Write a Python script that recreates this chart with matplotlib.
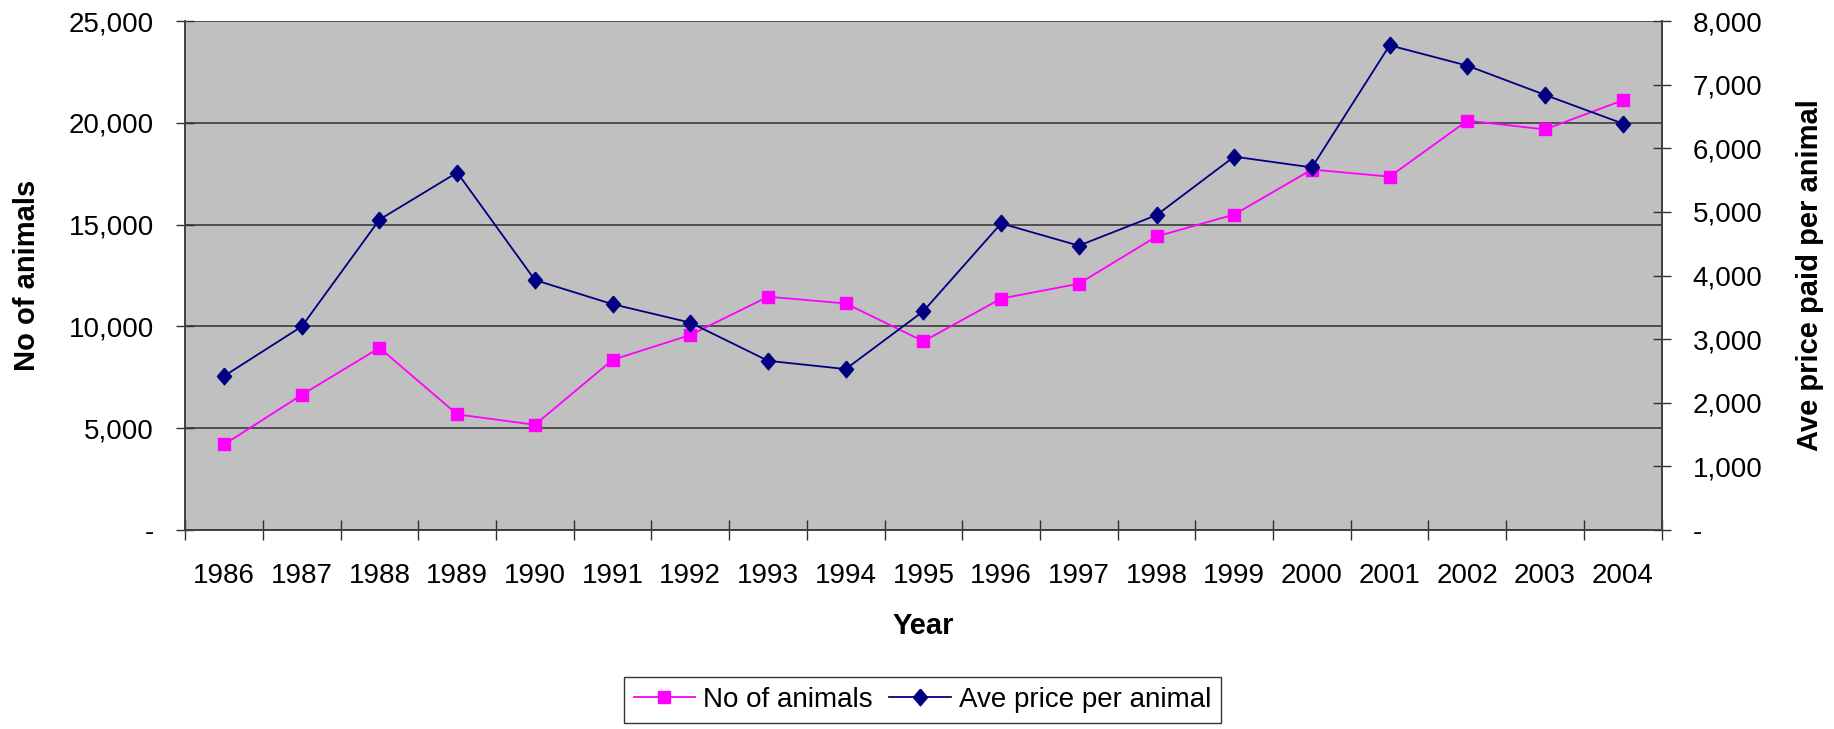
import matplotlib
matplotlib.use("Agg")
import matplotlib.pyplot as plt
from matplotlib.ticker import FuncFormatter, FixedLocator, NullFormatter
from matplotlib.lines import Line2D

years = [1986, 1987, 1988, 1989, 1990, 1991, 1992, 1993, 1994, 1995,
         1996, 1997, 1998, 1999, 2000, 2001, 2002, 2003, 2004]
no_of_animals = [4200, 6640, 8950, 5680, 5170, 8360, 9580, 11460, 11130, 9270,
                 11370, 12100, 14420, 15500, 17710, 17360, 20110, 19680, 21110]
ave_price = [2420, 3200, 4880, 5620, 3930, 3550, 3260, 2660, 2530, 3440,
             4820, 4470, 4950, 5870, 5700, 7620, 7300, 6840, 6390]
left_ticks = [0, 5000, 10000, 15000, 20000, 25000]
right_ticks = [0, 1000, 2000, 3000, 4000, 5000, 6000, 7000, 8000]

font = ['Liberation Sans', 'DejaVu Sans']
diamond = [(0, 1), (0.85, 0), (0, -1), (-0.85, 0), (0, 1)]

def fmt(v, pos):
    return '-' if v == 0 else f'{int(v):,}'

fig = plt.figure(figsize=(18.34, 7.29), dpi=100)
ax = fig.add_axes([0.101, 0.273, 0.805, 0.698])
ax.set_facecolor('#C0C0C0')
ax2 = ax.twinx()

xs = list(range(len(years)))
ax.plot(xs, no_of_animals, color='#FF00FF', marker='s', markersize=9, linewidth=1.3, zorder=3)
ax2.plot(xs, ave_price, color='#000080', marker=diamond, markersize=12, linewidth=1.3, zorder=3)

ax.set_xlim(-0.5, len(years) - 0.5)
ax.set_ylim(0, 25000)
ax2.set_ylim(0, 8000)

ax.set_yticks(left_ticks)
ax2.set_yticks(right_ticks)
ax.yaxis.set_major_formatter(FuncFormatter(fmt))
ax2.yaxis.set_major_formatter(FuncFormatter(fmt))
ax.yaxis.grid(True, color='#303030', linewidth=1.1)
ax.set_axisbelow(True)

# category labels at centres, tick marks at boundaries
ax.set_xticks(xs)
ax.set_xticklabels([str(y) for y in years], fontfamily=font, fontsize=20)
ax.tick_params(axis='x', which='major', length=0, pad=24)
ax.xaxis.set_minor_locator(FixedLocator([i - 0.5 for i in range(len(years) + 1)]))
ax.xaxis.set_minor_formatter(NullFormatter())
ax.tick_params(axis='x', which='minor', direction='inout', length=14, width=1, color='#303030')

for lab in ax.get_yticklabels() + ax2.get_yticklabels():
    lab.set_fontfamily(font)
ax.tick_params(axis='y', labelsize=20, direction='inout', length=13, width=1, pad=16, color='#303030')
ax2.tick_params(axis='y', labelsize=20, direction='inout', length=13, width=1, pad=16, color='#303030')

for a in (ax, ax2):
    for s in a.spines.values():
        s.set_color('#404040')
        s.set_linewidth(1.2)
    a.spines['top'].set_visible(False)

ax.set_ylabel('No of animals', fontfamily=font, fontweight='bold', fontsize=21, labelpad=20)
ax2.set_ylabel('Ave price paid per animal', fontfamily=font, fontweight='bold', fontsize=21, labelpad=24)
ax.set_xlabel('Year', fontfamily=font, fontweight='bold', fontsize=21, labelpad=16)

handles = [
    Line2D([], [], color='#FF00FF', marker='s', markersize=9, linewidth=1.3),
    Line2D([], [], color='#000080', marker=diamond, markersize=12, linewidth=1.3),
]
leg = fig.legend(handles, ['No of animals', 'Ave price per animal'], loc='center',
                 bbox_to_anchor=(0.503, 0.040), ncol=2, frameon=True, fancybox=False,
                 prop={'family': font, 'size': 20}, handlelength=2.2, handletextpad=0.3,
                 columnspacing=0.6, borderpad=0.35, borderaxespad=0)
leg.get_frame().set_edgecolor('black')
leg.get_frame().set_linewidth(1)

fig.savefig('out.png', dpi=100)
